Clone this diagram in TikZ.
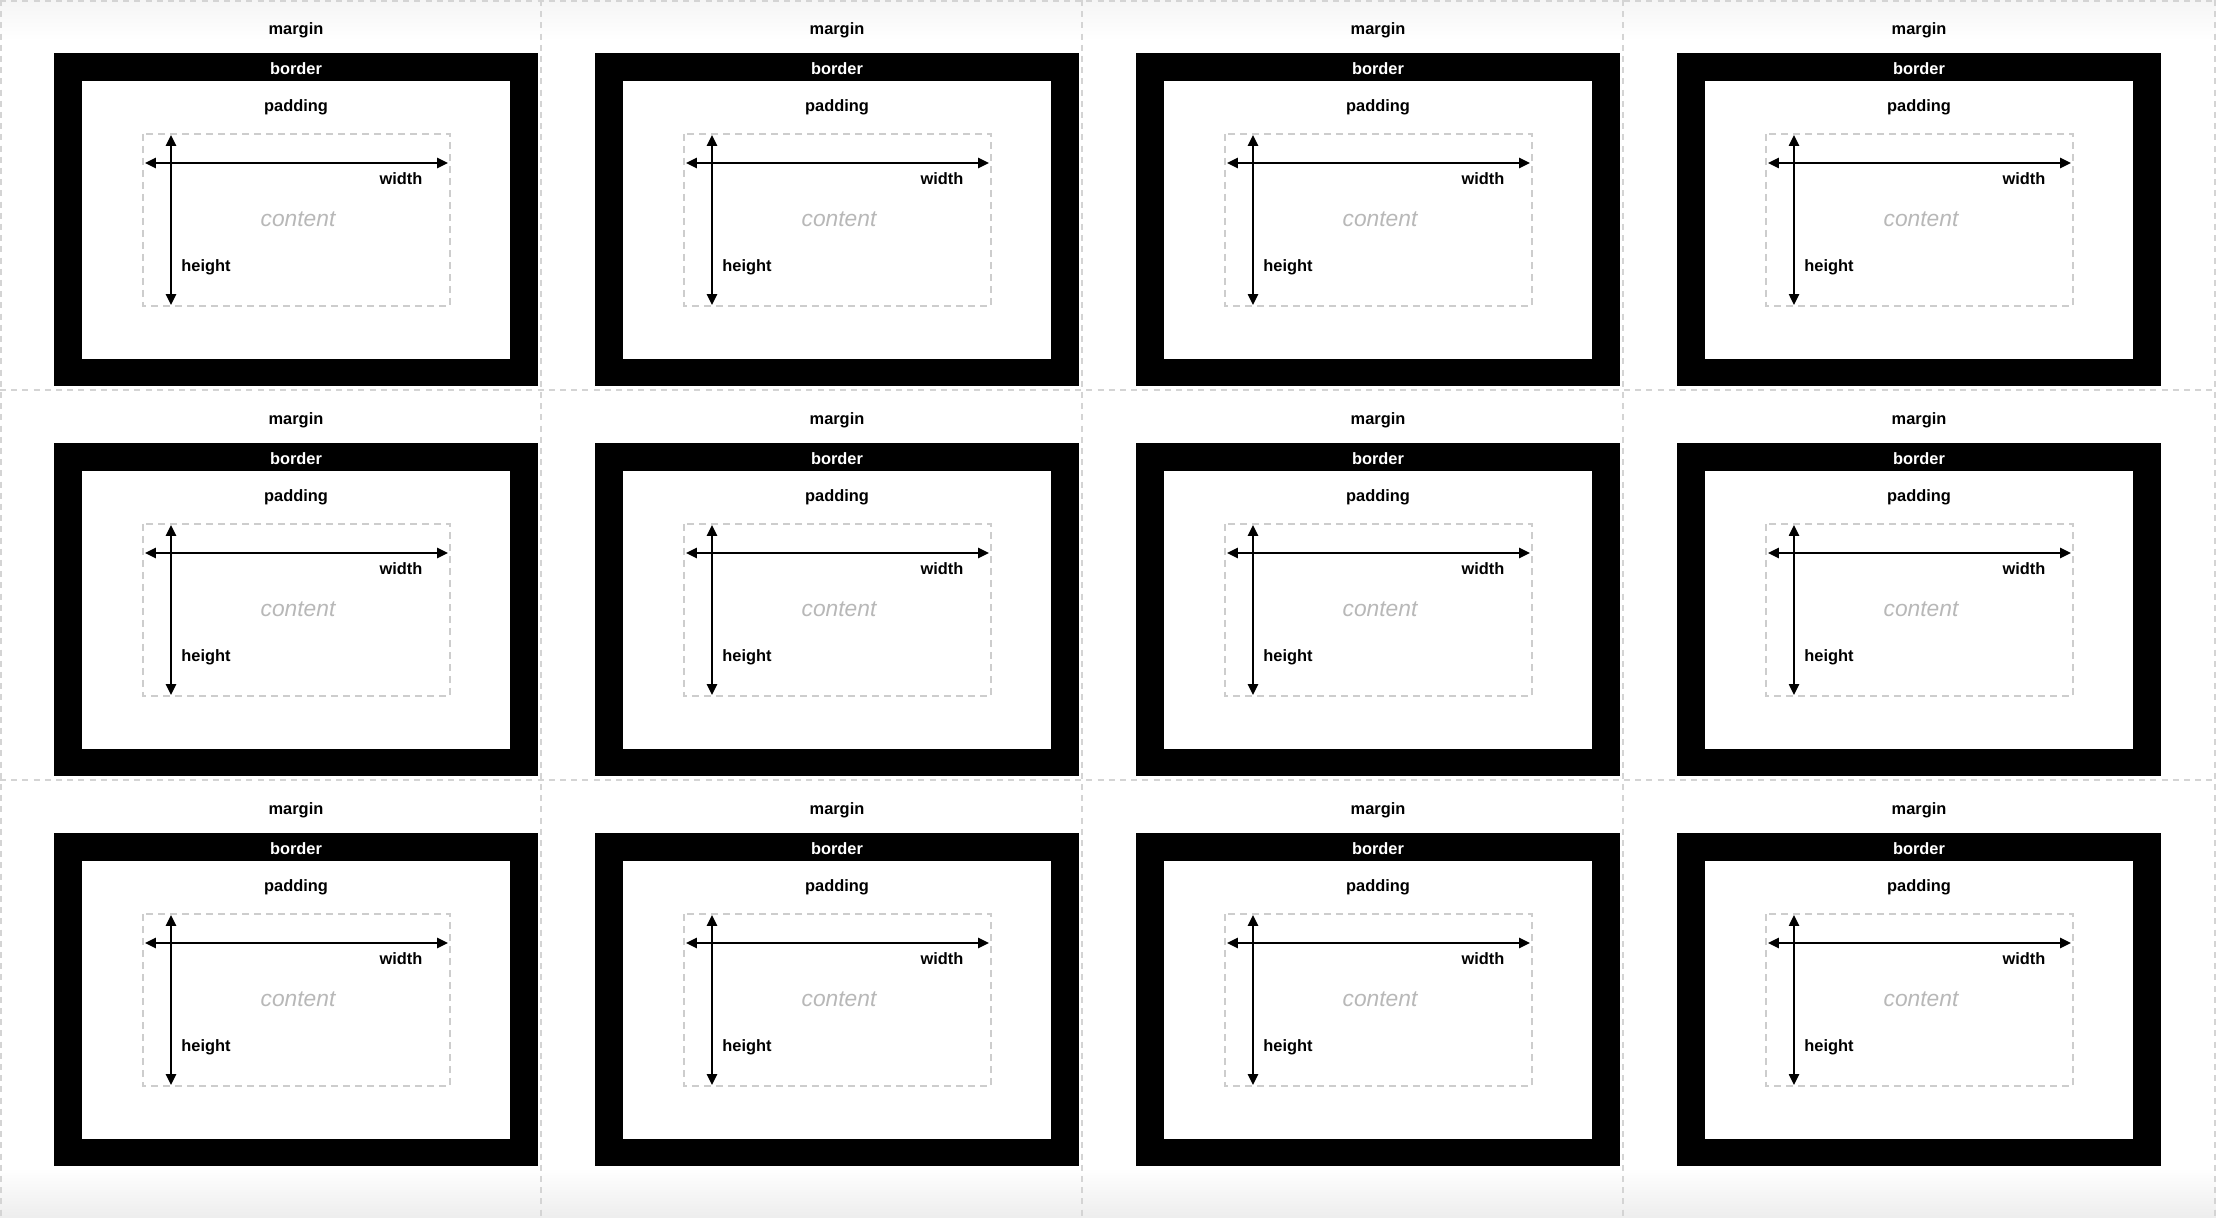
\documentclass[tikz,border=0pt]{standalone}
\usepackage{fontspec}
\setmainfont{Liberation Sans}
\usetikzlibrary{arrows.meta}
\definecolor{divgray}{HTML}{D4D4D4}
\definecolor{boxgray}{HTML}{CDCDCD}
\definecolor{contentgray}{HTML}{B8B8B8}
\tikzset{
  lbl/.style={font=\fontsize{8.2}{10}\selectfont\bfseries, inner sep=0pt},
  cnt/.style={font=\fontsize{11.4}{13}\selectfont\itshape, text=contentgray, inner sep=0pt},
  divider/.style={draw=divgray, line width=0.55pt, dash pattern=on 3pt off 2.6pt},
  contentbox/.style={draw=boxgray, line width=0.6pt, dash pattern=on 3.4pt off 2.6pt},
  dimarrow/.style={draw=black, line width=1pt, {Triangle[length=5.4pt,width=5pt]}-{Triangle[length=5.4pt,width=5pt]}},
}
\begin{document}
\begin{tikzpicture}[x=0.5pt,y=-0.5pt]
\useasboundingbox (0,0) rectangle (2216,1218);
\fill[white] (0,0) rectangle (2216,1218);
\shade[top color=white, bottom color=black!7] (0,1168) rectangle (2216,1218);
\shade[top color=black!4, bottom color=white] (0,0) rectangle (2216,40);
\foreach \c in {0,1,2,3}{
  \foreach \r in {0,1,2}{
    \begin{scope}[shift={(541*\c,390*\r)}]
      \fill[black] (54,53) rectangle (538,386);
      \fill[white] (82,81) rectangle (510,359);
      \draw[contentbox] (143,134) rectangle (450,306);
      \node[lbl] (margin-\r-\c) at (296,30) {margin};
      \node[lbl, text=white] (border-\r-\c) at (296,69) {border};
      \node[lbl] (padding-\r-\c) at (296,107) {padding};
      \node[cnt] (content-\r-\c) at (298,219) {content};
      \node[lbl] (width-\r-\c) at (401,179) {width};
      \node[lbl] (height-\r-\c) at (206,267) {height};
      \coordinate (wl-\r-\c) at (145,163);
      \coordinate (wr-\r-\c) at (448,163);
      \coordinate (ht-\r-\c) at (171,135);
      \coordinate (hb-\r-\c) at (171,305);
      \draw[dimarrow] (wl-\r-\c) -- (wr-\r-\c);
      \draw[dimarrow] (ht-\r-\c) -- (hb-\r-\c);
    \end{scope}
  }
}
\foreach \x in {1,541,1082,1623,2215}{
  \draw[divider] (\x,0) -- (\x,1218);
}
\foreach \y in {1,390,780}{
  \draw[divider] (0,\y) -- (2216,\y);
}
\end{tikzpicture}
\end{document}
